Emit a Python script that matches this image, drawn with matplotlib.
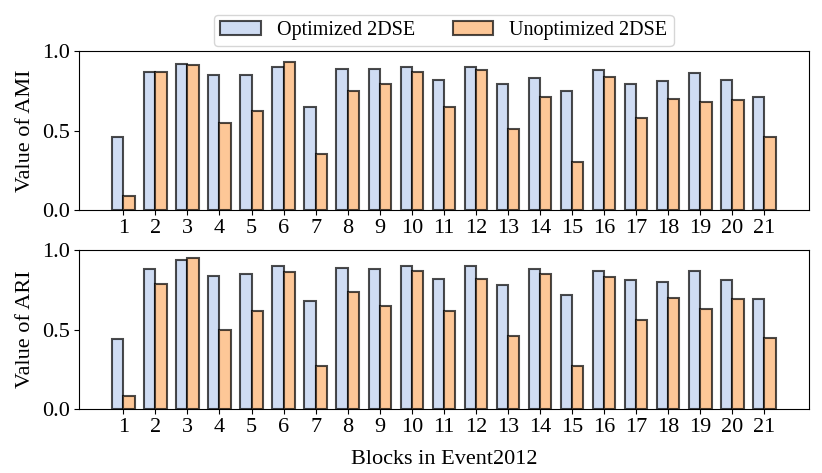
import numpy as np
import matplotlib
matplotlib.use("Agg")
import matplotlib.pyplot as plt

plt.rcParams["font.family"] = ["Liberation Serif", "DejaVu Serif"]

blocks = list(range(1, 22))
ami_opt = [0.46, 0.87, 0.92, 0.85, 0.85, 0.90, 0.65, 0.89, 0.89, 0.90, 0.82,
           0.90, 0.79, 0.83, 0.75, 0.88, 0.79, 0.81, 0.86, 0.82, 0.71]
ami_unopt = [0.09, 0.87, 0.91, 0.55, 0.62, 0.93, 0.35, 0.75, 0.79, 0.87, 0.65,
             0.88, 0.51, 0.71, 0.30, 0.84, 0.58, 0.70, 0.68, 0.69, 0.46]
ari_opt = [0.44, 0.88, 0.94, 0.84, 0.85, 0.90, 0.68, 0.89, 0.88, 0.90, 0.82,
           0.90, 0.78, 0.88, 0.72, 0.87, 0.81, 0.80, 0.87, 0.81, 0.69]
ari_unopt = [0.08, 0.79, 0.95, 0.50, 0.62, 0.86, 0.27, 0.74, 0.65, 0.87, 0.62,
             0.82, 0.46, 0.85, 0.27, 0.83, 0.56, 0.70, 0.63, 0.69, 0.45]

x = np.array(blocks)
w = 0.35
c_opt = "#cfdcf3"
c_unopt = "#fdc797"
edge = (0, 0, 0, 0.7)

fig = plt.figure(figsize=(8.22, 4.73), dpi=100)
ax1 = fig.add_axes([0.096, 0.556, 0.888, 0.336])
ax2 = fig.add_axes([0.096, 0.135, 0.888, 0.336])

for ax, opt, unopt, lab in [(ax1, ami_opt, ami_unopt, "Value of AMI"),
                            (ax2, ari_opt, ari_unopt, "Value of ARI")]:
    ax.bar(x, opt, -w, align="edge", color=c_opt, edgecolor=edge,
           linewidth=1.5, label="Optimized 2DSE")
    ax.bar(x, unopt, w, align="edge", color=c_unopt, edgecolor=edge,
           linewidth=1.5, label="Unoptimized 2DSE")
    ax.set_xticks(x)
    ax.set_xticklabels([str(b) for b in blocks])
    ax.set_ylim(0, 1.0)
    ax.set_yticks([0.0, 0.5, 1.0])
    ax.set_ylabel(lab, fontsize=16, labelpad=5)
    ax.tick_params(labelsize=16, pad=3)

ax2.set_xlabel("Blocks in Event2012", fontsize=16, labelpad=9)
ax1.legend(loc="lower center", bbox_to_anchor=(0.5, 1.0), ncol=2,
           fontsize=14.5, columnspacing=1.9, borderaxespad=0.25,
           borderpad=0.3)

fig.savefig("out.png", dpi=100)
